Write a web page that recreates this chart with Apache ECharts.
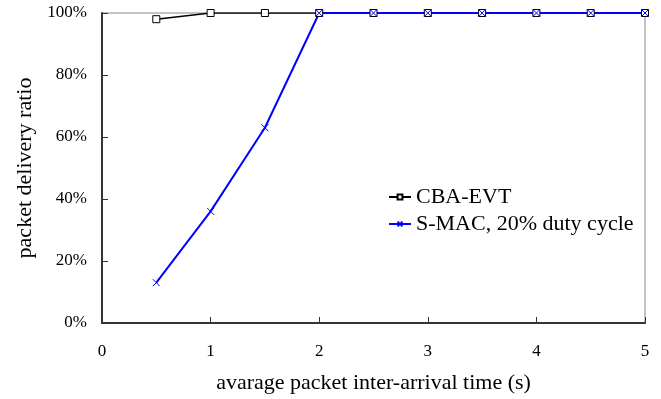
<!DOCTYPE html>
<html><head><meta charset="utf-8">
<script src="https://cdn.jsdelivr.net/npm/echarts@6/dist/echarts.min.js"></script>
<style>html,body{margin:0;padding:0;background:#fff}#c{width:661px;height:399px}</style>
</head><body><div id="c"></div>
<script>
const xValues = [0.5, 1, 1.5, 2, 2.5, 3, 3.5, 4, 4.5, 5];
const cbaEvt = [98, 100, 100, 100, 100, 100, 100, 100, 100, 100];
const sMac = [13, 36, 63, 100, 100, 100, 100, 100, 100, 100];
const seriesNames = ['CBA-EVT', 'S-MAC, 20% duty cycle'];
const xTitle = 'avarage packet inter-arrival time (s)';
const yTitle = 'packet delivery ratio';

const font = 'Liberation Serif';
const chart = echarts.init(document.getElementById('c'));
chart.setOption({
  animation: false,
  textStyle: {fontFamily: font},
  grid: {left: 102, right: 16, top: 13, bottom: 76, show: true, borderColor: '#888', borderWidth: 1, backgroundColor: 'transparent'},
  legend: {
    orient: 'vertical', left: 383, top: 181, itemGap: 5, itemWidth: 22, itemHeight: 6,
    textStyle: {fontFamily: font, fontSize: 22, color: '#000'},
    data: seriesNames
  },
  xAxis: {
    type: 'value', min: 0, max: 5, interval: 1,
    name: xTitle, nameLocation: 'middle', nameGap: 49,
    nameTextStyle: {fontFamily: font, fontSize: 22, color: '#000'},
    axisLine: {lineStyle: {color: '#333', width: 2}},
    axisTick: {inside: true, length: 6, lineStyle: {color: '#333'}},
    axisLabel: {fontFamily: font, fontSize: 17, color: '#000', margin: 20},
    splitLine: {show: false}
  },
  yAxis: {
    type: 'value', min: 0, max: 100, interval: 20,
    name: yTitle, nameLocation: 'middle', nameGap: 66,
    nameTextStyle: {fontFamily: font, fontSize: 22, color: '#000'},
    axisLine: {lineStyle: {color: '#333', width: 2}},
    axisTick: {inside: true, length: 6, lineStyle: {color: '#333'}},
    axisLabel: {fontFamily: font, fontSize: 17, color: '#000', margin: 15, formatter: '{value}%'},
    splitLine: {show: false}
  },
  series: [
    {
      name: seriesNames[0], type: 'line',
      data: xValues.map((x, i) => [x, cbaEvt[i]]),
      symbol: 'rect', symbolSize: 7, showAllSymbol: true,
      lineStyle: {color: '#000', width: 1.5},
      itemStyle: {color: '#fff', borderColor: '#000', borderWidth: 1}
    },
    {
      name: seriesNames[1], type: 'line',
      data: xValues.map((x, i) => [x, sMac[i]]),
      symbol: 'path://M0,0L10,10M10,0L0,10', symbolSize: 7, showAllSymbol: true,
      lineStyle: {color: '#0000ff', width: 2},
      itemStyle: {color: 'none', borderColor: '#0000ff', borderWidth: 1}
    }
  ]
});
</script></body></html>
